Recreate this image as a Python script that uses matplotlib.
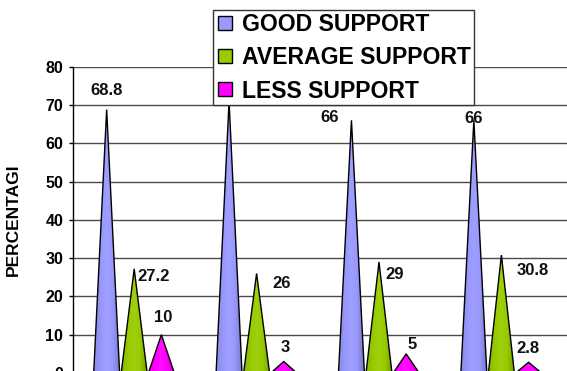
import numpy as np
import matplotlib
matplotlib.use("Agg")
import matplotlib.pyplot as plt
from matplotlib.patches import Polygon
from matplotlib.lines import Line2D
from matplotlib.font_manager import FontProperties

# ---- data -------------------------------------------------------------
groups = ["Group 1", "Group 2", "Group 3", "Group 4"]
series_names = ["GOOD SUPPORT", "AVERAGE SUPPORT", "LESS SUPPORT"]
good = [68.8, 71, 66, 66]
average = [27.2, 26, 29, 30.8]
less = [10, 3, 5, 2.8]
y_ticks = [0, 10, 20, 30, 40, 50, 60, 70, 80]

# ---- styling ----------------------------------------------------------
plt.rcParams["font.family"] = ["Liberation Sans", "DejaVu Sans"]
colors = ["#9999FF", "#99CC00", "#FF00FF"]
series_shift = [-0.225, 0.0, 0.222]   # cone position within a group
cone_half = 0.106                      # half width of cone base
# label offsets (pixels) from each cone tip, per series and group
label_offsets = [
    [(0, 19), (0, 19), (-22, 3), (0, 2)],
    [(19, -8), (25, -10), (16, -13), (31, -15)],
    [(2, 17), (1, 14), (6, 9), (-1, 14)],
]


def shade_row(hexcol, n=64):
    """Horizontal shading across a cone: darker left, highlight, dark right."""
    base = np.array(matplotlib.colors.to_rgb(hexcol))
    t = np.linspace(0, 1, n)
    f = np.interp(t, [0.0, 0.5, 0.75, 1.0], [0.9, 1.06, 0.98, 0.78])
    rows = []
    for fi in f:
        if fi > 1:
            c = base + (1 - base) * (fi - 1)
        else:
            c = base * fi
        rows.append(c)
    return np.array(rows)[None, :, :]


fig = plt.figure(figsize=(5.67, 3.71), dpi=100)
ax = fig.add_axes([73 / 567, -2 / 371, (567 - 73) / 567, (373 - 66.7) / 371])

ax.set_xlim(-0.5, 3.536)
ax.set_ylim(0, 80)
ax.set_yticks(y_ticks)
ax.set_yticklabels([str(v) for v in y_ticks], fontsize=11.5, fontweight="bold")
ax.set_xticks([])
ax.grid(axis="y", color="#4a4a4a", linewidth=1.0, zorder=0)
ax.set_axisbelow(True)
for side in ("top", "right", "bottom"):
    ax.spines[side].set_visible(False)
ax.spines["left"].set_color("black")
ax.spines["left"].set_linewidth(1.0)
ax.tick_params(axis="y", length=3, width=1, pad=4, color="black")
ax.set_ylabel("PERCENTAGI", fontsize=12.5, fontweight="bold")
ax.yaxis.set_label_coords(-0.105, 0.5)

all_series = [good, average, less]
for s, (vals, col) in enumerate(zip(all_series, colors)):
    grad = shade_row(col)
    for g, v in enumerate(vals):
        xc = g + series_shift[s]
        poly = Polygon([(xc - cone_half, 0), (xc, v), (xc + cone_half, 0)],
                       closed=True, facecolor="none", edgecolor="black",
                       linewidth=1.0, zorder=3)
        ax.add_patch(poly)
        im = ax.imshow(grad, extent=(xc - cone_half, xc + cone_half, 0, v),
                       aspect="auto", interpolation="bilinear", zorder=2)
        im.set_clip_path(poly)
        dx, dy = label_offsets[s][g]
        ax.annotate(f"{v:g}", xy=(xc, v), xytext=(dx, dy),
                    textcoords="offset pixels", ha="center", va="center",
                    fontsize=12, fontweight="bold", color="#111111",
                    zorder=4, annotation_clip=False)

ax.set_xlim(-0.5, 3.536)
ax.set_ylim(0, 80)

handles = [Line2D([], [], linestyle="none", marker="s", markersize=10,
                  markerfacecolor=c, markeredgecolor="black",
                  markeredgewidth=1.0) for c in colors]
legend_font = FontProperties(family="Liberation Sans", weight="bold", size=16.6)
leg = fig.legend(handles, series_names, loc="upper left",
                 bbox_to_anchor=(213 / 567, 1 - 10 / 371),
                 bbox_transform=fig.transFigure,
                 prop=legend_font,
                 frameon=True, fancybox=False, framealpha=1,
                 edgecolor="#333333", handlelength=0.8, handletextpad=0.35,
                 labelspacing=0.45, borderpad=0.12, borderaxespad=0)
leg.get_frame().set_linewidth(1.0)
leg.set_zorder(10)

fig.savefig("out.png", dpi=100)
